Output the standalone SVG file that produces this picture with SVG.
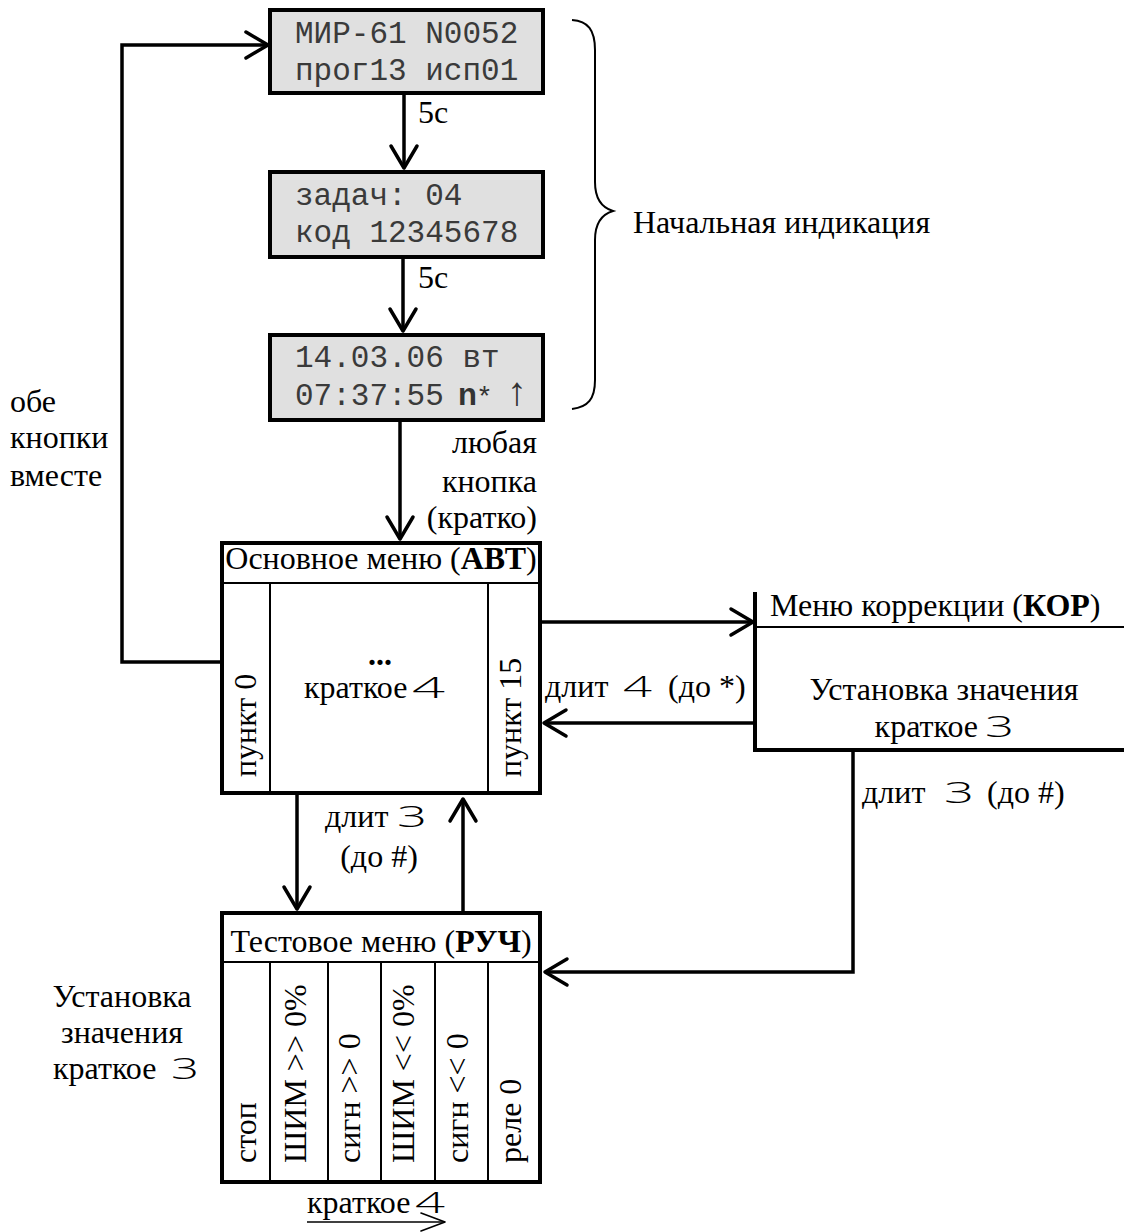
<svg xmlns="http://www.w3.org/2000/svg" width="1124" height="1232" viewBox="0 0 1124 1232">
<defs>
<style>
.lcd{fill:#e0e0e0;stroke:#000;stroke-width:4}
.box{fill:#fff;stroke:#000;stroke-width:4}
.thin{stroke:#000;stroke-width:2;fill:none}
.mono{font-family:"Liberation Mono","Courier New",monospace;font-size:31px;fill:#3a3a3a}
.t{font-family:"Liberation Serif","Times New Roman",serif;font-size:32px;fill:#000}
.b{font-weight:bold}
.k{font-family:"Open Sans","Liberation Sans",Arial,sans-serif;font-weight:300;font-size:30px;fill:#000}
.conn{stroke:#000;stroke-width:3.5;fill:none;marker-end:url(#ah)}
.conns{stroke:#000;stroke-width:1.6;fill:none;marker-end:url(#ahs)}
</style>
<marker id="ah" markerUnits="userSpaceOnUse" markerWidth="40" markerHeight="40" viewBox="-30 -20 40 40" refX="0" refY="0" orient="auto" overflow="visible">
<path d="M-22,-13 L0,0 L-22,13" fill="none" stroke="#000" stroke-width="3.5" stroke-linecap="round" stroke-linejoin="round"/>
</marker>
<marker id="ahs" markerUnits="userSpaceOnUse" markerWidth="40" markerHeight="40" viewBox="-30 -20 40 40" refX="0" refY="0" orient="auto" overflow="visible">
<path d="M-24,-9 L0,0 L-24,9" fill="none" stroke="#000" stroke-width="1.6" stroke-linecap="round" stroke-linejoin="round"/>
</marker>
</defs>
<rect width="1124" height="1232" fill="#fff"/>

<g id="connectors">
<polyline class="conn" points="222,662 122,662 122,45 268,45"/>
<line class="conn" x1="404" y1="93" x2="404" y2="168"/>
<line class="conn" x1="403" y1="257" x2="403" y2="331"/>
<line class="conn" x1="400" y1="420" x2="400" y2="539"/>
<line class="conn" x1="542" y1="622" x2="753" y2="622"/>
<line class="conn" x1="755" y1="723" x2="544" y2="723"/>
<line class="conn" x1="297" y1="795" x2="297" y2="909"/>
<line class="conn" x1="463" y1="913" x2="463" y2="799"/>
<polyline class="conn" points="853,748 853,972 545,972"/>
<line class="conns" x1="300" y1="729" x2="437" y2="729"/>
<line class="conns" x1="307" y1="1222" x2="445" y2="1222"/>
</g>

<g id="labels">
<text class="t" x="418" y="123">5с</text>
<text class="t" x="418" y="288">5с</text>
<text class="t" x="537" y="453" text-anchor="end">любая</text>
<text class="t" x="537" y="492" text-anchor="end">кнопка</text>
<text class="t" x="537" y="528" text-anchor="end">(кратко)</text>
<text class="t" x="10" y="412">обе</text>
<text class="t" x="10" y="448">кнопки</text>
<text class="t" x="10" y="486">вместе</text>
<text class="t" x="545" y="697">длит</text>
<text class="k" x="623" y="697" textLength="29" lengthAdjust="spacingAndGlyphs">4</text>
<text class="t" x="668" y="697">(до *)</text>
<text class="t" x="862" y="803">длит</text>
<text class="k" x="944" y="803" textLength="30" lengthAdjust="spacingAndGlyphs">3</text>
<text class="t" x="987" y="803">(до #)</text>
<text class="t" x="325" y="827">длит</text>
<text class="k" x="397" y="827" textLength="30" lengthAdjust="spacingAndGlyphs">3</text>
<text class="t" x="379" y="867" text-anchor="middle">(до #)</text>
<text class="t" x="122" y="1007" text-anchor="middle">Установка</text>
<text class="t" x="122" y="1043" text-anchor="middle">значения</text>
<text class="t" x="53" y="1079">краткое</text>
<text class="k" x="171" y="1079" textLength="28" lengthAdjust="spacingAndGlyphs">3</text>
<text class="t" x="307" y="1213">краткое</text>
<text class="k" x="415" y="1213" textLength="30" lengthAdjust="spacingAndGlyphs">4</text>
</g>

<g id="brace">
<path d="M572,20 C588,21 595,30 595,50 L595,182 C595,200 603,208 613,211 C603,214 595,222 595,240 L595,380 C595,399 588,407 572,409" fill="none" stroke="#000" stroke-width="2"/>
<text class="t" x="633" y="233">Начальная индикация</text>
</g>

<g id="lcd1">
<rect class="lcd" x="270" y="10" width="273" height="83"/>
<text class="mono" x="295" y="43">МИР-61 N0052</text>
<text class="mono" x="295" y="80">прог13 исп01</text>
</g>

<g id="lcd2">
<rect class="lcd" x="270" y="172" width="273" height="85"/>
<text class="mono" x="295" y="205">задач: 04</text>
<text class="mono" x="295" y="242">код 12345678</text>
</g>

<g id="lcd3">
<rect class="lcd" x="270" y="335" width="273" height="85"/>
<text class="mono" x="295" y="367">14.03.06 вт</text>
<text class="mono" x="295" y="405">07:37:55</text>
<text x="458" y="405" font-family="Liberation Sans,Arial,sans-serif" font-size="31" font-weight="bold" fill="#333">n</text>
<text x="479" y="405" font-family="Liberation Sans,Arial,sans-serif" font-size="28" fill="#333">*</text>
<text x="507" y="405" font-family="Liberation Serif,serif" font-size="40" fill="#333">↑</text>
</g>

<g id="main-menu">
<rect class="box" x="222" y="543" width="318" height="250"/>
<line class="thin" x1="222" y1="583" x2="540" y2="583"/>
<line class="thin" x1="270" y1="583" x2="270" y2="793"/>
<line class="thin" x1="488" y1="583" x2="488" y2="793"/>
<text class="t" x="381" y="569" text-anchor="middle">Основное меню (<tspan class="b">АВТ</tspan>)</text>
<text class="t" transform="translate(256,777) rotate(-90)">пункт 0</text>
<text class="t" transform="translate(521,777) rotate(-90)">пункт 15</text>
<text class="t b" x="380" y="665" text-anchor="middle" font-size="38">...</text>
<text class="t" x="304" y="698">краткое</text>
<text class="k" x="412" y="698" textLength="33" lengthAdjust="spacingAndGlyphs" font-size="32">4</text>
</g>

<g id="correction-menu">
<polyline points="1124,750 755,750 755,592" fill="none" stroke="#000" stroke-width="4"/>
<line class="thin" x1="755" y1="627" x2="1124" y2="627"/>
<text class="t" x="770" y="616">Меню коррекции (<tspan class="b">КОР</tspan>)</text>
<text class="t" x="944" y="700" text-anchor="middle">Установка значения</text>
<text class="t" x="978" y="737" text-anchor="end">краткое</text>
<text class="k" x="985" y="737" textLength="29" lengthAdjust="spacingAndGlyphs">3</text>
</g>

<g id="test-menu">
<rect class="box" x="222" y="913" width="318" height="269"/>
<line class="thin" x1="222" y1="962" x2="540" y2="962"/>
<line class="thin" x1="270" y1="962" x2="270" y2="1182"/>
<line class="thin" x1="328" y1="962" x2="328" y2="1182"/>
<line class="thin" x1="381" y1="962" x2="381" y2="1182"/>
<line class="thin" x1="435" y1="962" x2="435" y2="1182"/>
<line class="thin" x1="488" y1="962" x2="488" y2="1182"/>
<text class="t" x="381" y="952" text-anchor="middle">Тестовое меню (<tspan class="b">РУЧ</tspan>)</text>
<text class="t" transform="translate(256,1163) rotate(-90)">стоп</text>
<text class="t" transform="translate(306,1163) rotate(-90)">ШИМ &gt;&gt; 0%</text>
<text class="t" transform="translate(360,1163) rotate(-90)">сигн &gt;&gt; 0</text>
<text class="t" transform="translate(414,1163) rotate(-90)">ШИМ &lt;&lt; 0%</text>
<text class="t" transform="translate(468,1163) rotate(-90)">сигн &lt;&lt; 0</text>
<text class="t" transform="translate(521,1163) rotate(-90)">реле 0</text>
</g>
</svg>
